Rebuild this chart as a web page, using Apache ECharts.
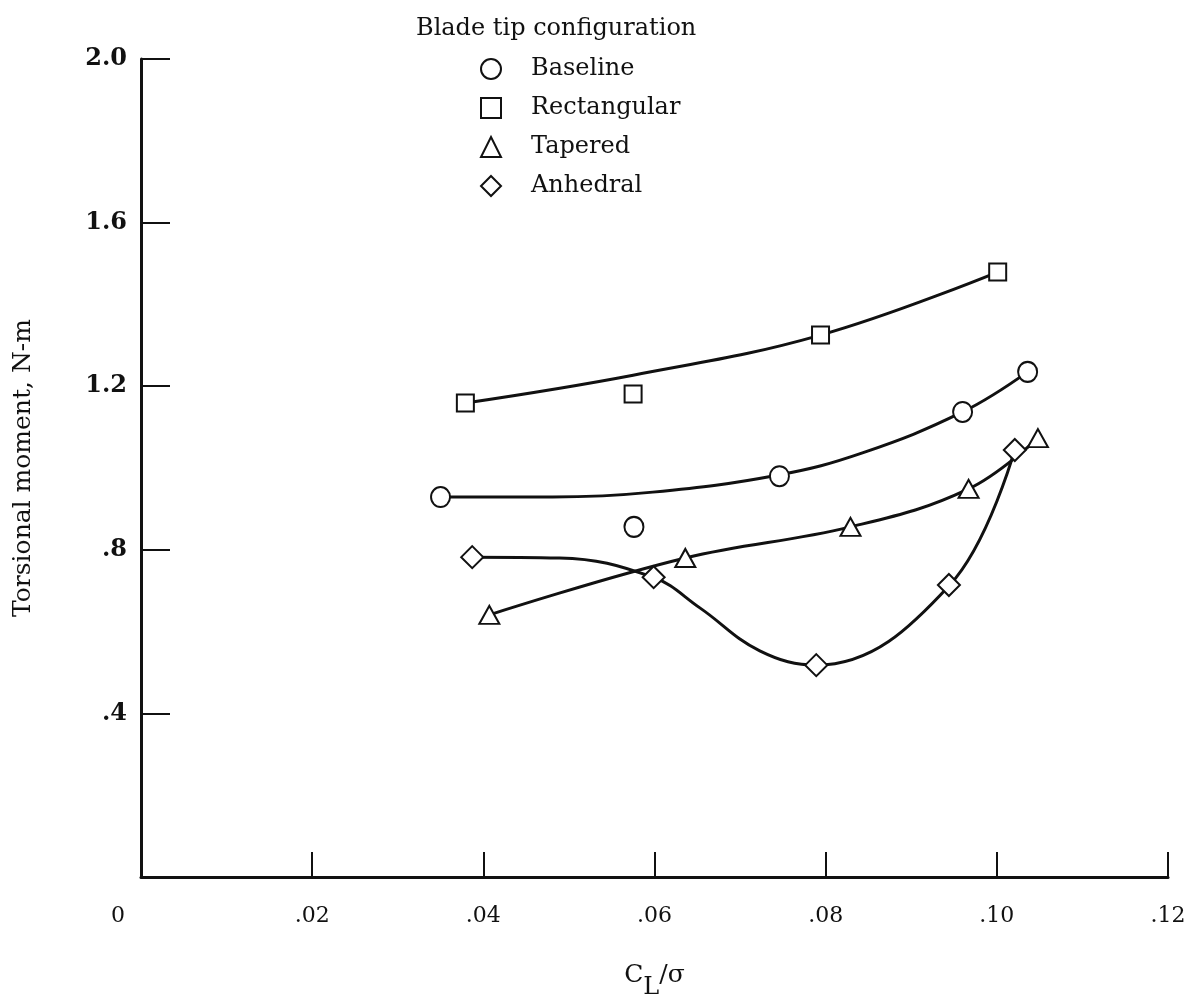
<!DOCTYPE html>
<html>
<head>
<meta charset="utf-8">
<script src="https://cdn.jsdelivr.net/npm/echarts@6/dist/echarts.min.js"></script>
<style>
html, body { margin: 0; padding: 0; background: #fff; }
#chart { width: 1198px; height: 1005px; }
</style>
</head>
<body>
<div id="chart"></div>
<script>
// ---- data ----
const seriesNames = ['Baseline', 'Rectangular', 'Tapered', 'Anhedral'];
const seriesSymbols = ['circle', 'rect', 'triangle', 'diamond'];

const baselineX = [0.0350, 0.0576, 0.0746, 0.0960, 0.1036];
const baselineY = [0.929, 0.856, 0.980, 1.137, 1.235];
const rectX = [0.0379, 0.0575, 0.0794, 0.1001];
const rectY = [1.159, 1.181, 1.325, 1.479];
const taperX = [0.0407, 0.0636, 0.0829, 0.0967, 0.1048];
const taperY = [0.641, 0.780, 0.856, 0.949, 1.073];
const anhX = [0.0387, 0.0599, 0.0789, 0.0944, 0.1021];
const anhY = [0.782, 0.733, 0.518, 0.714, 1.044];

// faired curves
const baselineCurveX = [0.0350, 0.0481, 0.0598, 0.0745, 0.0843, 0.0960, 0.1036];
const baselineCurveY = [0.929, 0.929, 0.941, 0.983, 1.037, 1.137, 1.235];
const rectCurveX = [0.0379, 0.0575, 0.0794, 0.1001];
const rectCurveY = [1.159, 1.227, 1.325, 1.479];
const taperCurveX = [0.0407, 0.0636, 0.0829, 0.0967, 0.1048];
const taperCurveY = [0.641, 0.780, 0.856, 0.949, 1.073];
const anhCurveX = [0.0386, 0.0489, 0.0598, 0.0653, 0.0723, 0.0789, 0.0945, 0.1021];
const anhCurveY = [0.782, 0.780, 0.733, 0.658, 0.553, 0.518, 0.714, 1.046];

const xTickValues = [0, 0.02, 0.04, 0.06, 0.08, 0.10, 0.12];
const xTickLabels = ['0', '.02', '.04', '.06', '.08', '.10', '.12'];
const yTickValues = [0, 0.4, 0.8, 1.2, 1.6, 2.0];
const yTickLabels = ['', '.4', '.8', '1.2', '1.6', '2.0'];

const legendTitle = 'Blade tip configuration';
const yAxisTitle = 'Torsional moment, N-m';

// ---- build ----
const zip = (xs, ys) => xs.map((x, i) => [x, ys[i]]);
const markerSets = [zip(baselineX, baselineY), zip(rectX, rectY), zip(taperX, taperY), zip(anhX, anhY)];
const curveSets = [zip(baselineCurveX, baselineCurveY), zip(rectCurveX, rectCurveY), zip(taperCurveX, taperCurveY), zip(anhCurveX, anhCurveY)];
const symbolSizes = [[19, 20], 17, [20, 18], 22];

const serif = 'DejaVu Serif';
const hollow = { color: '#fff', borderColor: '#111', borderWidth: 2, opacity: 1 };

const findLabel = (vals, labels, v) => {
  for (let i = 0; i < vals.length; i++) if (Math.abs(vals[i] - v) < 1e-9) return labels[i];
  return '';
};

const series = [];
curveSets.forEach((d, i) => {
  series.push({
    name: seriesNames[i] + ' curve',
    type: 'line',
    data: d,
    smooth: 0.4,
    showSymbol: false,
    symbol: 'none',
    lineStyle: { color: '#111', width: 3 },
    z: 2,
    silent: true
  });
});
markerSets.forEach((d, i) => {
  series.push({
    name: seriesNames[i],
    type: 'scatter',
    data: d,
    symbol: seriesSymbols[i],
    symbolSize: symbolSizes[i],
    itemStyle: hollow,
    z: 5
  });
});

const chart = echarts.init(document.getElementById('chart'), null, { renderer: 'canvas' });
chart.setOption({
  backgroundColor: '#fff',
  animation: false,
  title: {
    text: legendTitle,
    left: 411,
    top: 12,
    textStyle: { fontFamily: serif, fontSize: 24, fontWeight: 'normal', color: '#111' }
  },
  legend: {
    orient: 'vertical',
    left: 475,
    top: 52,
    itemWidth: 20,
    itemHeight: 20,
    itemGap: 15,
    data: seriesNames.map((n, i) => ({
      name: n,
      icon: seriesSymbols[i],
      itemStyle: hollow
    })),
    textStyle: { fontFamily: serif, fontSize: 24, color: '#111', padding: [0, 0, 0, 25], lineHeight: 18 }
  },
  grid: { left: 141, right: 30, top: 59, bottom: 128, containLabel: false, outerBoundsMode: 'none' },
  xAxis: {
    type: 'value',
    min: 0,
    max: 0.12,
    interval: 0.02,
    name: '{c|C}{l|L}{s|/σ}',
    nameLocation: 'middle',
    nameGap: 86,
    nameTextStyle: {
      rich: {
        c: { fontFamily: serif, fontSize: 25, color: '#111', lineHeight: 26, verticalAlign: 'top' },
        l: { fontFamily: serif, fontSize: 24, color: '#111', lineHeight: 26, verticalAlign: 'top', padding: [13, 0, 0, 0] },
        s: { fontFamily: serif, fontSize: 25, color: '#111', lineHeight: 26, verticalAlign: 'top' }
      }
    },
    axisLine: { show: true, onZero: false, lineStyle: { color: '#111', width: 3 } },
    axisTick: { show: true, inside: true, length: 25, lineStyle: { color: '#111', width: 2 } },
    splitLine: { show: false },
    axisLabel: {
      margin: 28,
      color: '#111',
      fontFamily: serif,
      fontSize: 22,
      formatter: (v) => {
        const t = findLabel(xTickValues, xTickLabels, v);
        return v === 0 ? '{z|' + t + '}' : t;
      },
      rich: { z: { fontFamily: serif, fontSize: 22, color: '#111', padding: [0, 46, 0, 0] } }
    }
  },
  yAxis: {
    type: 'value',
    min: 0,
    max: 2.0,
    interval: 0.4,
    name: yAxisTitle,
    nameLocation: 'middle',
    nameGap: 105,
    nameTextStyle: { fontFamily: serif, fontSize: 25, color: '#111' },
    axisLine: { show: true, onZero: false, lineStyle: { color: '#111', width: 3 } },
    axisTick: { show: true, inside: true, length: 29, lineStyle: { color: '#111', width: 2 } },
    splitLine: { show: false },
    axisLabel: {
      margin: 14,
      color: '#111',
      fontFamily: serif,
      fontSize: 24,
      fontWeight: 'bold',
      formatter: (v) => findLabel(yTickValues, yTickLabels, v)
    }
  },
  series: series
});
</script>
</body>
</html>
